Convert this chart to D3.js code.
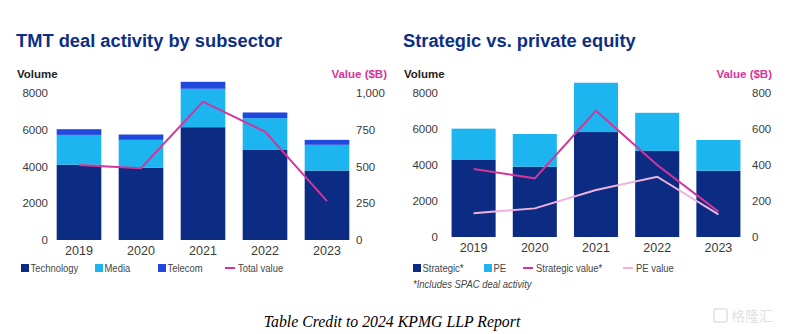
<!DOCTYPE html>
<html>
<head>
<meta charset="utf-8">
<title>TMT deal activity</title>
<script src="https://cdn.jsdelivr.net/npm/d3@7"></script>
<style>
  body { margin: 0; background: #fff; }
  svg text { font-family: "Liberation Sans", Arial, sans-serif; }
</style>
</head>
<body>
<svg id="chart" width="789" height="334"></svg>
<script>
// data
var years = ["2019", "2020", "2021", "2022", "2023"];

var technology = [4100, 3940, 6140, 4900, 3780];
var media      = [1620, 1510, 2090, 1730, 1400];
var telecom    = [310, 290, 380, 310, 270];
var totalValue = [510, 488, 941, 737, 265];

var strategic      = [4280, 3900, 5830, 4780, 3680];
var pe             = [1740, 1820, 2740, 2120, 1710];
var strategicValue = [378, 326, 702, 400, 141];
var peValue        = [132, 159, 261, 335, 126];

var volTicks = [0, 2000, 4000, 6000, 8000];
var valTicksLeft = [0, 250, 500, 750, 1000];
var valTicksRight = [0, 200, 400, 600, 800];

var navy = "#0b2c82", cyan = "#1db5ef", royal = "#2148dc",
    pink = "#d4359b", lightPink = "#f1b2dd", grey = "#3a3a3a";

var svg = d3.select("#chart");

// narrow-looking legend text: squeeze horizontally
function narrowText(sel, x, y, txt, size, italic) {
  return sel.append("text")
    .attr("transform", "translate(" + x + "," + y + ") scale(0.86,1)")
    .attr("font-size", size).attr("fill", "#444")
    .attr("font-style", italic ? "italic" : null)
    .text(txt);
}

function panel(opt) {
  var g = svg.append("g");
  var x = d3.scaleBand().domain(years).range([opt.x0, opt.x1]).paddingInner(0.28).paddingOuter(0.14);
  var y = d3.scaleLinear().domain([0, 8000]).range([opt.base, opt.top]);
  var y2 = d3.scaleLinear().domain([0, opt.valMax]).range([opt.base, opt.top]);

  g.append("text").attr("x", opt.titleX).attr("y", 47)
    .attr("font-size", 18.3).attr("font-weight", "bold").attr("fill", "#0c2f85")
    .text(opt.title);
  g.append("text").attr("x", opt.titleX + 1).attr("y", 78)
    .attr("font-size", 11.5).attr("font-weight", "bold").attr("fill", "#222")
    .text("Volume");
  g.append("text").attr("x", opt.valLabelX).attr("y", 78).attr("text-anchor", "end")
    .attr("font-size", 11.5).attr("font-weight", "bold").attr("fill", pink)
    .text("Value ($B)");

  // left axis
  var ax = g.append("g").attr("transform", "translate(" + opt.leftAxisX + ",0)")
    .call(d3.axisLeft(y).tickValues(volTicks).tickSize(0).tickPadding(0).tickFormat(d3.format("d")));
  ax.select(".domain").remove();
  ax.selectAll("text").attr("font-size", 11.5).attr("fill", grey).style("font-family", "Liberation Sans, Arial, sans-serif");

  // right axis
  var ax2 = g.append("g").attr("transform", "translate(" + opt.rightAxisX + ",0)")
    .call(d3.axisRight(y2).tickValues(opt.valTicks).tickSize(0).tickPadding(0).tickFormat(d3.format(",")));
  ax2.select(".domain").remove();
  ax2.selectAll("text").attr("font-size", 11.5).attr("fill", grey).style("font-family", "Liberation Sans, Arial, sans-serif");

  // stacked bars
  var rows = years.map(function(yr, i) {
    var r = { year: yr };
    opt.keys.forEach(function(k, j) { r[k] = opt.series[j][i]; });
    return r;
  });
  var stacked = d3.stack().keys(opt.keys)(rows);
  g.selectAll("g.layer").data(stacked).enter().append("g")
    .attr("fill", function(d, i) { return opt.colors[i]; })
    .selectAll("rect").data(function(d) { return d; }).enter().append("rect")
      .attr("x", function(d) { return x(d.data.year); })
      .attr("width", x.bandwidth())
      .attr("y", function(d) { return y(d[1]); })
      .attr("height", function(d) { return y(d[0]) - y(d[1]); });

  // x labels
  var xa = g.append("g").attr("transform", "translate(0," + (opt.base + 3) + ")")
    .call(d3.axisBottom(x).tickSize(0).tickPadding(0));
  xa.select(".domain").remove();
  xa.selectAll("text").attr("dy", "0.95em").attr("font-size", 12.5).attr("fill", grey)
    .style("font-family", "Liberation Sans, Arial, sans-serif");

  // lines
  var line = d3.line()
    .x(function(d, i) { return x(years[i]) + x.bandwidth() / 2; })
    .y(function(d) { return y2(d); });
  opt.lines.forEach(function(l) {
    g.append("path").datum(l.values)
      .attr("fill", "none").attr("stroke", l.color).attr("stroke-width", 2)
      .attr("d", line);
  });

  // legend
  var lg = g.append("g").attr("transform", "translate(0,271)");
  opt.legend.forEach(function(it) {
    if (it.type === "box") {
      lg.append("rect").attr("x", it.x).attr("y", -7).attr("width", 8).attr("height", 8).attr("fill", it.color);
    } else {
      lg.append("line").attr("x1", it.x).attr("x2", it.x + 10).attr("y1", -3).attr("y2", -3)
        .attr("stroke", it.color).attr("stroke-width", 2);
    }
    narrowText(lg, it.x + (it.type === "box" ? 9.5 : 13), 1, it.label, 11, false);
  });
}

panel({
  title: "TMT deal activity by subsector", titleX: 16, valLabelX: 387,
  x0: 48, x1: 358, base: 240, top: 93, valMax: 1000, valTicks: valTicksLeft,
  leftAxisX: 48, rightAxisX: 356,
  keys: ["Technology", "Media", "Telecom"],
  series: [technology, media, telecom],
  colors: [navy, cyan, royal],
  lines: [{ values: totalValue, color: pink }],
  legend: [
    { type: "box", x: 21, color: navy, label: "Technology" },
    { type: "box", x: 95, color: cyan, label: "Media" },
    { type: "box", x: 158, color: royal, label: "Telecom" },
    { type: "line", x: 225, color: pink, label: "Total value" }
  ]
});

panel({
  title: "Strategic vs. private equity", titleX: 403, valLabelX: 772,
  x0: 443, x1: 749, base: 237, top: 93, valMax: 800, valTicks: valTicksRight,
  leftAxisX: 438, rightAxisX: 752,
  keys: ["Strategic", "PE"],
  series: [strategic, pe],
  colors: [navy, cyan],
  lines: [{ values: peValue, color: lightPink }, { values: strategicValue, color: pink }],
  legend: [
    { type: "box", x: 413, color: navy, label: "Strategic*" },
    { type: "box", x: 484, color: cyan, label: "PE" },
    { type: "line", x: 523, color: pink, label: "Strategic value*" },
    { type: "line", x: 623, color: lightPink, label: "PE value" }
  ]
});

narrowText(svg, 413, 288, "*Includes SPAC deal activity", 11, true);

svg.append("text").attr("x", 392).attr("y", 327).attr("text-anchor", "middle")
  .attr("font-size", 15.8).attr("font-style", "italic").attr("fill", "#000")
  .style("font-family", "Liberation Serif, Times New Roman, serif")
  .text("Table Credit to 2024 KPMG LLP Report");

// faint watermark
var wm = svg.append("g").attr("opacity", 0.25);
wm.append("rect").attr("x", 714).attr("y", 309).attr("width", 13).attr("height", 13).attr("rx", 2)
  .attr("fill", "none").attr("stroke", "#888").attr("stroke-width", 1.5);
wm.append("text").attr("x", 731).attr("y", 321).attr("font-size", 14).attr("fill", "#888")
  .style("font-family", "Noto Sans CJK SC").text("格隆汇");
</script>
</body>
</html>
